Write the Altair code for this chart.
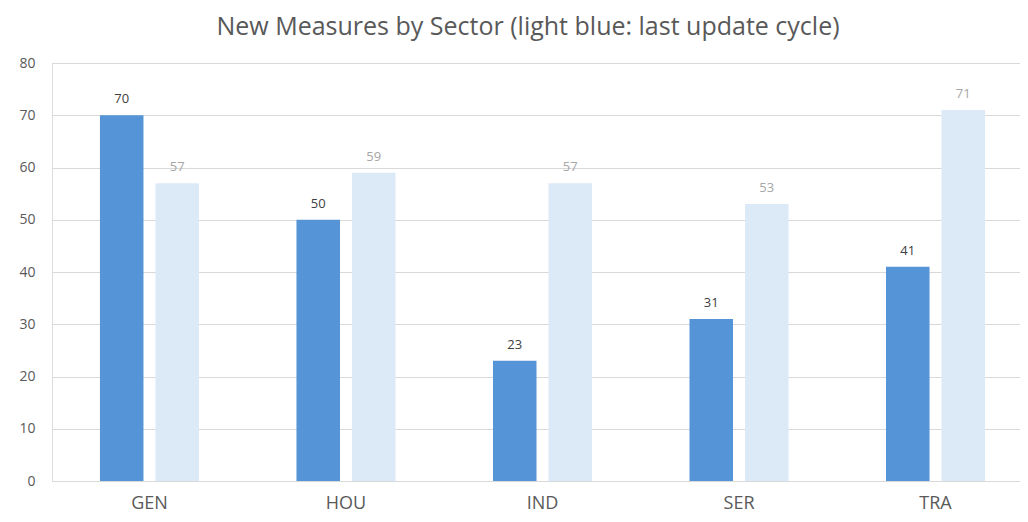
import altair as alt
import pandas as pd

sectors = ["GEN", "HOU", "IND", "SER", "TRA"]
current = [70, 50, 23, 31, 41]
last_cycle = [57, 59, 57, 53, 71]
series_names = ["current", "last update cycle"]
y_ticks = [0, 10, 20, 30, 40, 50, 60, 70, 80]

rows = []
for s, c, l in zip(sectors, current, last_cycle):
    rows.append({"sector": s, "series": series_names[0], "value": c})
    rows.append({"sector": s, "series": series_names[1], "value": l})
df = pd.DataFrame(rows)

FONT = "Open Sans"

x_enc = alt.X(
    "sector:N",
    sort=sectors,
    scale=alt.Scale(range=[0, 981], paddingInner=0.496, paddingOuter=0.244),
    axis=alt.Axis(
        title=None, labelAngle=0, ticks=False, domain=True,
        domainColor="#d9d9d9", domainWidth=1,
        labelFont=FONT, labelFontSize=18, labelColor="#595959",
        labelPadding=13,
    ),
)
xoff_enc = alt.XOffset(
    "series:N", sort=series_names,
    scale=alt.Scale(paddingInner=0.216, paddingOuter=0),
)
y_enc = alt.Y(
    "value:Q",
    scale=alt.Scale(domain=[0, 80], nice=False),
    axis=alt.Axis(
        title=None, values=y_ticks, ticks=False, domain=False,
        grid=True, gridColor="#d9d9d9", gridWidth=1,
        labelFont=FONT, labelFontSize=14, labelColor="#595959",
        labelPadding=17,
    ),
)

bars = alt.Chart(df).mark_bar().encode(
    x=x_enc,
    xOffset=xoff_enc,
    y=y_enc,
    color=alt.Color(
        "series:N", sort=series_names,
        scale=alt.Scale(domain=series_names, range=["#5694d8", "#dce9f7"]),
        legend=None,
    ),
)

labels = alt.Chart(df).mark_text(
    dy=-12, baseline="alphabetic", font=FONT, fontSize=13
).encode(
    x=alt.X("sector:N", sort=sectors),
    xOffset=alt.XOffset("series:N", sort=series_names),
    y="value:Q",
    text="value:Q",
    color=alt.Color(
        "series:N", sort=series_names,
        scale=alt.Scale(domain=series_names, range=["#404040", "#a6a6a6"]),
        legend=None,
    ),
)

chart = (
    alt.layer(bars, labels)
    .resolve_scale(color="independent")
    .properties(
        width=968,
        height=418,
        autosize=alt.AutoSizeParams(type="none"),
        padding={"left": 44, "top": 55, "right": 0, "bottom": 41},
        title=alt.TitleParams(
            "New Measures by Sector (light blue: last update cycle)",
            font=FONT, fontSize=25, fontWeight="normal", color="#595959",
            anchor="middle", frame="group", offset=16, dx=-8,
        ),
    )
    .configure_view(stroke=None)
    .configure(background="white")
)

chart.save("out.html", embed_options={"renderer": "svg", "actions": False})
